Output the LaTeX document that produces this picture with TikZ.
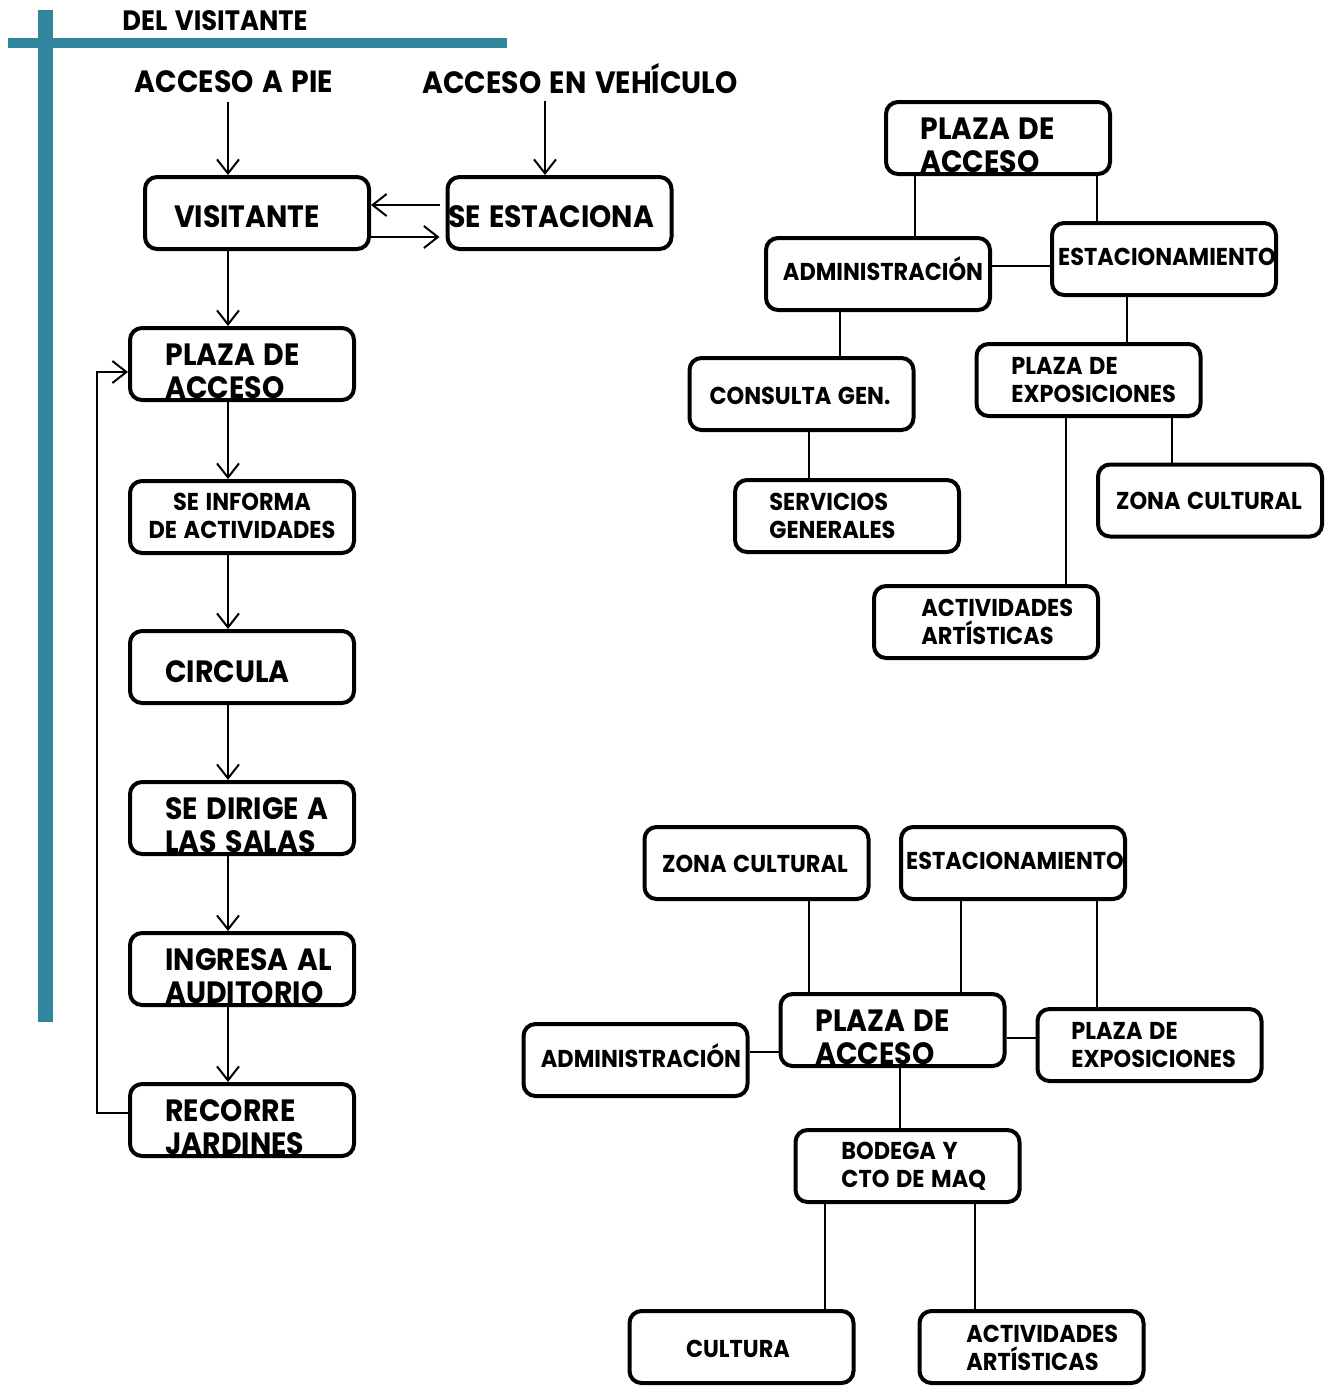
\documentclass[tikz,border=0pt]{standalone}
\usepackage{fontspec}
\setmainfont{Poppins}[FakeStretch=0.92,WordSpace=1.4]
\usetikzlibrary{arrows.meta}
\definecolor{teal1}{RGB}{48,135,158}
\begin{document}
\begin{tikzpicture}[x=0.5pt,y=-0.5pt,
  box/.style={draw, line width=2pt, rounded corners=6pt, minimum width=112pt, minimum height=36pt, inner sep=0pt},
  big/.style={font=\fontsize{15.4}{16.5}\selectfont\bfseries, inner sep=0pt, align=left},
  small/.style={font=\fontsize{12.2}{14}\selectfont\bfseries, inner sep=0pt, align=left},
  arr/.style={-{Straight Barb[length=7pt,width=11pt]}, line width=1pt},
  ln/.style={line width=1pt}]
\useasboundingbox (0,0) rectangle (1326,1393);
% teal bars
\fill[teal1] (38,10) rectangle (53,1022);
\fill[teal1] (8,38) rectangle (507,48);
% header texts
\node[big, font=\fontsize{14}{16}\selectfont\bfseries] (del) at (215,21) {DEL VISITANTE};
\node[big] (pie) at (234,82) {ACCESO A PIE};
\node[big] (veh) at (580,79) {ACCESO EN VEHÍCULO};
% left column boxes
\node[box] (vis) at (257,213) {};
\node[box] (est) at (559.5,213) {};
\node[box] (pa1) at (242,364) {};
\node[box] (inf) at (242,517) {};
\node[box] (cir) at (242,667) {};
\node[box] (dir) at (242,818) {};
\node[box] (ing) at (242,969) {};
\node[box] (rec) at (242,1120) {};
% top-right boxes
\node[box] (pa2) at (998,138) {};
\node[box] (adm2) at (878,274) {};
\node[box] (est2) at (1164,259) {};
\node[box] (con) at (801.5,394) {};
\node[box] (exp2) at (1088.5,380) {};
\node[box] (ser) at (847,516) {};
\node[box] (zon2) at (1210,500.5) {};
\node[box] (act2) at (986,622) {};
% bottom boxes
\node[box] (zon3) at (756.5,863) {};
\node[box] (est3) at (1013,863) {};
\node[box] (pa3) at (892.5,1030) {};
\node[box] (adm3) at (635.5,1060) {};
\node[box] (exp3) at (1149.5,1045) {};
\node[box] (bod) at (907.5,1166) {};
\node[box] (cul) at (741.5,1347) {};
\node[box] (act3) at (1031.5,1347) {};
% texts left
\node[big] (vis-t) at (247,217) {VISITANTE};
\node[big] (est-t) at (551,217) {SE ESTACIONA};
\node[big, anchor=west] (pa1-t) at (165,371.5) {PLAZA DE\\ACCESO};
\node[small, align=center] (inf-t) at (242,516) {SE INFORMA\\DE ACTIVIDADES};
\node[big, anchor=west] (cir-t) at (165,672) {CIRCULA};
\node[big, anchor=west] (dir-t) at (165,825.5) {SE DIRIGE A\\LAS SALAS};
\node[big, anchor=west] (ing-t) at (165,976.5) {INGRESA AL\\AUDITORIO};
\node[big, anchor=west] (rec-t) at (165,1127.5) {RECORRE\\JARDINES};
% texts top-right
\node[big, anchor=west] (pa2-t) at (920,145) {PLAZA DE\\ACCESO};
\node[small] (adm2-t) at (883,269) {ADMINISTRACIÓN};
\node[small] (est2-t) at (1167,257) {ESTACIONAMIENTO};
\node[small] (con-t) at (800,396) {CONSULTA GEN.};
\node[small, anchor=west] (exp2-t) at (1011,380.5) {PLAZA DE\\EXPOSICIONES};
\node[small, anchor=west] (ser-t) at (769,516) {SERVICIOS\\GENERALES};
\node[small] (zon2-t) at (1209,501) {ZONA CULTURAL};
\node[small, anchor=west] (act2-t) at (921,622) {ACTIVIDADES\\ARTÍSTICAS};
% texts bottom
\node[small] (zon3-t) at (755,864) {ZONA CULTURAL};
\node[small] (est3-t) at (1015,861) {ESTACIONAMIENTO};
\node[big, anchor=west] (pa3-t) at (815,1037.5) {PLAZA DE\\ACCESO};
\node[small] (adm3-t) at (641,1056) {ADMINISTRACIÓN};
\node[small, anchor=west] (exp3-t) at (1071,1045.5) {PLAZA DE\\EXPOSICIONES};
\node[small, anchor=west] (bod-t) at (841,1166.5) {BODEGA Y\\CTO DE MAQ};
\node[small] (cul-t) at (738,1349) {CULTURA};
\node[small, anchor=west] (act3-t) at (966,1348) {ACTIVIDADES\\ARTÍSTICAS};
% left column arrows
\draw[arr] ([xshift=-3pt,yshift=-4.5pt]pie.south) coordinate (t) -- (t |- vis.north);
\draw[arr] ([xshift=-17.5pt,yshift=-3pt]veh.south) coordinate (t) -- (t |- est.north);
\draw[arr] ([xshift=-3pt,yshift=4pt]est.west) coordinate (t) -- (t -| vis.east);
\draw[arr] ([yshift=-12pt]vis.east) coordinate (t) -- ([xshift=-3pt]t -| est.west);
\draw[arr] ([xshift=-14.5pt]vis.south) coordinate (t) -- (t |- pa1.north);
\draw[arr] ([xshift=-7pt]pa1.south) coordinate (t) -- (t |- inf.north);
\draw[arr] ([xshift=-7pt]inf.south) coordinate (t) -- (t |- cir.north);
\draw[arr] ([xshift=-7pt]cir.south) coordinate (t) -- (t |- dir.north);
\draw[arr] ([xshift=-7pt]dir.south) coordinate (t) -- (t |- ing.north);
\draw[arr] ([xshift=-7pt]ing.south) coordinate (t) -- (t |- rec.north);
\draw[arr] ([yshift=3.5pt]rec.west) -- ++(-15.5pt,0) |- ([yshift=-4pt]pa1.west);
% top-right connectors
\draw[ln] ([xshift=-41.5pt]pa2.south) coordinate (t) -- (t |- adm2.north);
\draw[ln] ([xshift=49.5pt]pa2.south) coordinate (t) -- (t |- est2.north);
\draw[ln] ([yshift=4pt]adm2.east) coordinate (t) -- (t -| est2.west);
\draw[ln] ([xshift=-19pt]adm2.south) coordinate (t) -- (t |- con.north);
\draw[ln] ([xshift=-18.5pt]est2.south) coordinate (t) -- (t |- exp2.north);
\draw[ln] ([xshift=3.75pt]con.south) coordinate (t) -- (t |- ser.north);
\draw[ln] ([xshift=41.75pt]exp2.south) coordinate (t) -- (t |- zon2.north);
\draw[ln] ([xshift=-11.25pt]exp2.south) coordinate (t) -- (t |- act2.north);
% bottom connectors
\draw[ln] ([xshift=26.25pt]zon3.south) coordinate (t) -- (t |- pa3.north);
\draw[ln] ([xshift=-26pt]est3.south) coordinate (t) -- (t |- pa3.north);
\draw[ln] ([xshift=42pt]est3.south) coordinate (t) -- (t |- exp3.north);
\draw[ln] ([yshift=4pt]adm3.east) coordinate (t) -- (t -| pa3.west);
\draw[ln] ([yshift=-4pt]pa3.east) coordinate (t) -- (t -| exp3.west);
\draw[ln] ([xshift=3.75pt]pa3.south) coordinate (t) -- (t |- bod.north);
\draw[ln] ([xshift=-41.25pt]bod.south) coordinate (t) -- (t |- cul.north);
\draw[ln] ([xshift=33.75pt]bod.south) coordinate (t) -- (t |- act3.north);
\end{tikzpicture}
\end{document}
